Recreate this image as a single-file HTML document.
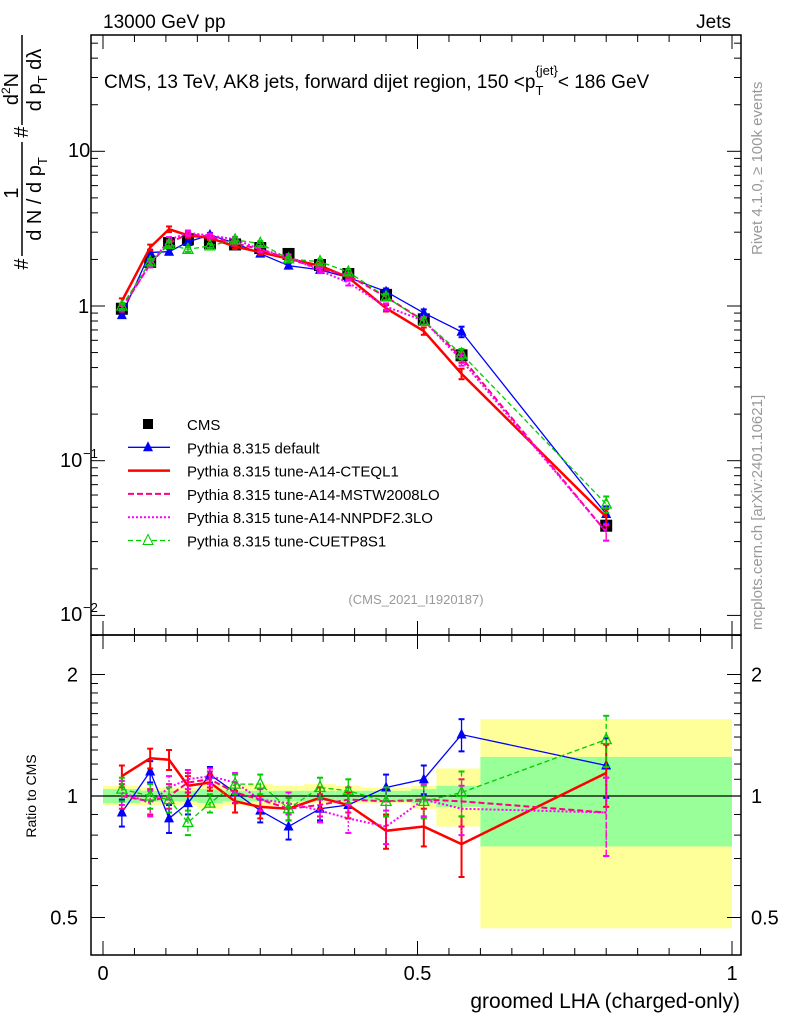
<!DOCTYPE html>
<html><head><meta charset="utf-8"><style>
body{margin:0;background:#fff}
svg{display:block;font-family:"Liberation Sans",sans-serif}
</style></head><body>
<svg id="c" width="786" height="1024" viewBox="0 0 786 1024">
<g id="bands"></g>
<g id="axes"></g>
<g id="series"></g>
<g id="legend"></g>
<text x="103" y="28" font-size="19">13000 GeV pp</text>
<text x="731" y="28" font-size="19" text-anchor="end">Jets</text>
<text x="104" y="88" font-size="19">CMS, 13 TeV, AK8 jets, forward dijet region, 150 &lt;p<tspan font-size="13" dy="7">T</tspan><tspan font-size="13" dy="-20" dx="-8">{jet}</tspan><tspan dy="13">&lt; 186 GeV</tspan></text>
<text x="416" y="604" font-size="13" fill="#999" text-anchor="middle">(CMS_2021_I1920187)</text>
<text transform="translate(762,255) rotate(-90)" font-size="15" fill="#999">Rivet 4.1.0, ≥ 100k events</text>
<text transform="translate(762,630) rotate(-90)" font-size="15" fill="#999">mcplots.cern.ch [arXiv:2401.10621]</text>
<g font-size="20">
<text transform="translate(28,264) rotate(-90)" text-anchor="middle">#</text>
<text transform="translate(18,193) rotate(-90)" text-anchor="middle">1</text>
<line x1="22" y1="142" x2="22" y2="256" stroke="#000" stroke-width="1.5"/>
<text transform="translate(41,199) rotate(-90)" text-anchor="middle">d N / d p<tspan font-size="13" dy="6">T</tspan></text>
<text transform="translate(28,132) rotate(-90)" text-anchor="middle">#</text>
<text transform="translate(18,89) rotate(-90)" text-anchor="middle">d<tspan font-size="12" dy="-8">2</tspan><tspan dy="8">N</tspan></text>
<line x1="22" y1="35" x2="22" y2="125" stroke="#000" stroke-width="1.5"/>
<text transform="translate(41,80) rotate(-90)" text-anchor="middle">d p<tspan font-size="13" dy="6">T</tspan><tspan dy="-6"> dλ</tspan></text>
</g>
<text transform="translate(36,796) rotate(-90)" font-size="14" text-anchor="middle">Ratio to CMS</text>
<text x="740" y="1008" font-size="21" text-anchor="end">groomed LHA (charged-only)</text>
</svg>
<script>
const xs=[0.03,0.075,0.105,0.135,0.17,0.21,0.25,0.295,0.345,0.39,0.45,0.51,0.57,0.80];
const edges=[0,0.06,0.09,0.12,0.15,0.19,0.23,0.27,0.32,0.37,0.41,0.49,0.53,0.6,1.0];
const cms=[0.96,1.93,2.55,2.7,2.55,2.5,2.37,2.17,1.84,1.61,1.18,0.82,0.48,0.038];
const bandGreen=[0.04,0.03,0.03,0.03,0.04,0.03,0.03,0.03,0.03,0.03,0.03,0.04,0.06,0.25];
const bandYellowLo=[0.95,0.95,0.95,0.95,0.93,0.95,0.94,0.95,0.96,0.96,0.96,0.93,0.84,0.47];
const bandYellowHi=[1.06,1.05,1.05,1.05,1.07,1.06,1.07,1.06,1.07,1.06,1.05,1.06,1.17,1.55];
const rDefault=[0.91,1.15,0.88,0.96,1.13,1.02,0.92,0.84,0.93,0.95,1.05,1.10,1.42,1.19];
const rCteq=[1.12,1.24,1.23,1.06,1.08,0.97,0.94,0.93,0.99,0.95,0.82,0.84,0.76,1.14];
const rMstw=[1.0,0.97,1.0,1.08,1.1,1.02,0.98,0.93,0.95,0.98,0.97,0.98,0.97,0.91];
const rNnpdf=[1.02,0.96,1.05,1.1,1.12,1.08,0.98,0.96,0.92,0.88,0.84,0.98,0.93,0.91];
const rCuet=[1.04,1.0,0.98,0.86,0.96,1.07,1.07,0.93,1.05,1.03,0.97,0.97,1.02,1.38];
const errs=[0.07,0.07,0.07,0.06,0.05,0.06,0.06,0.06,0.06,0.07,0.08,0.09,0.13,0.2];
const NS='http://www.w3.org/2000/svg';
const X=v=>103+629*v;
const YM=v=>306-154.7*Math.log10(v);
const YR=v=>796-121.5*Math.log2(v);
function el(t,a,p){const e=document.createElementNS(NS,t);for(const k in a)e.setAttribute(k,a[k]);document.getElementById(p).appendChild(e);return e;}
for(let i=0;i<xs.length;i++){
 const x0=X(edges[i]),x1=X(edges[i+1]);
 let e=el('rect',{x:x0,y:YR(bandYellowHi[i]),width:x1-x0,height:YR(bandYellowLo[i])-YR(bandYellowHi[i]),fill:'#ffff99'},'bands');
 
 e=el('rect',{x:x0,y:YR(1+bandGreen[i]),width:x1-x0,height:YR(1-bandGreen[i])-YR(1+bandGreen[i]),fill:'#99ff99'},'bands');
 
}
const ax='axes';
function line(x1,y1,x2,y2,w,c){const e=el('line',{x1,y1,x2,y2,stroke:c||'#000','stroke-width':w||1},ax);return e;}
let f=el('rect',{x:91,y:35,width:650,height:600,fill:'none',stroke:'#000','stroke-width':1.5},ax);

f=el('rect',{x:91,y:635,width:650,height:320,fill:'none',stroke:'#000','stroke-width':1.5},ax);

line(91,796,741,796,1.3);
for(let k=0;k<=20;k++){const v=k*0.05,x=X(v),L=(k%10==0)?14:7;
 line(x,635,x,635-L);line(x,35,x,35+L);line(x,955,x,955-L);line(x,635,x,635+L);}
for(let d=-2;d<=1;d++)for(let m=1;m<10;m++){const y=YM(m*Math.pow(10,d));if(y<35||y>635)continue;const L=m==1?14:7;line(91,y,91+L,y);line(741,y,741-L,y);}
[0.5,0.6,0.7,0.8,0.9,1,1.1,1.2,1.3,1.4,1.5,1.6,1.7,1.8,1.9,2,2.5].forEach(v=>{const y=YR(v);if(y<635||y>955)return;const L=(v==0.5||v==1||v==2)?14:7;line(91,y,91+L,y);line(741,y,741-L,y);});
[['10',150,''],['1',306,''],['10',460,'−1'],['10',614,'−2']].forEach(t=>{const e=el('text',{x:t[2]?60:(t[0]=='1'?78:68),y:t[1]+7,'font-size':20},ax);e.textContent=t[0];
 if(t[2]){const s=el('text',{x:83,y:t[1]-2,'font-size':13},ax);s.textContent=t[2];}});
[['2',2],['1',1],['0.5',0.5]].forEach(t=>{let e=el('text',{x:78,y:YR(t[1])+7,'font-size':20,'text-anchor':'end'},ax);e.textContent=t[0];
 e=el('text',{x:751,y:YR(t[1])+7,'font-size':20},ax);e.textContent=t[0];});
[['0',0],['0.5',0.5],['1',1]].forEach(t=>{const e=el('text',{x:X(t[1]),y:980,'font-size':20,'text-anchor':'middle'},ax);e.textContent=t[0];});
const S=[
 {n:'pythia-default',r:rDefault,c:'#0000ff',w:1.3,d:'',m:'tri'},
 {n:'pythia-cteql1',r:rCteq,c:'#ff0000',w:2.5,d:'',m:'none'},
 {n:'pythia-mstw2008lo',r:rMstw,c:'#ff0080',w:2,d:'6,3',m:'none'},
 {n:'pythia-nnpdf23lo',r:rNnpdf,c:'#ff00ff',w:2,d:'2,2',m:'none'},
 {n:'pythia-cuetp8s1',r:rCuet,c:'#00cc00',w:1.3,d:'5,3',m:'otri'}];
function marker(s,x,y){
 if(s.m=='tri'){const e=el('path',{d:`M${x-5},${y+4}L${x+5},${y+4}L${x},${y-6}Z`,fill:s.c},'series');}
 if(s.m=='otri'){const e=el('path',{d:`M${x-5},${y+4}L${x+5},${y+4}L${x},${y-6}Z`,fill:'none',stroke:s.c,'stroke-width':1.3},'series');}
}
for(let i=0;i<xs.length;i++){const x=X(xs[i]),y=YM(cms[i]);
 const e=el('rect',{x:x-6,y:y-6,width:12,height:12,fill:'#000'},'series');
 }
S.forEach(s=>{
 let pm='',pr='';
 for(let i=0;i<xs.length;i++){const x=X(xs[i]),v=cms[i]*s.r[i];
  pm+=(i?'L':'M')+x+','+YM(v);pr+=(i?'L':'M')+x+','+YR(s.r[i]);
  [[YM(v*(1+errs[i]*0.6)),YM(v*(1-errs[i]*0.6))],[YR(s.r[i]+errs[i]),YR(s.r[i]-errs[i])]].forEach(b=>{
   const e=el('line',{x1:x,x2:x,y1:b[0],y2:b[1],stroke:s.c,'stroke-width':s.w>2?2:1.3,'stroke-dasharray':s.d},'series');
   
   const c1=el('line',{x1:x-3,x2:x+3,y1:b[0],y2:b[0],stroke:s.c,'stroke-width':2},'series');
   const c2=el('line',{x1:x-3,x2:x+3,y1:b[1],y2:b[1],stroke:s.c,'stroke-width':2},'series');
  });
  marker(s,x,YM(v));marker(s,x,YR(s.r[i]));
 }
 let e=el('path',{d:pm,fill:'none',stroke:s.c,'stroke-width':s.w,'stroke-dasharray':s.d},'series');
 
 e=el('path',{d:pr,fill:'none',stroke:s.c,'stroke-width':s.w,'stroke-dasharray':s.d},'series');
 
});
const labels=['CMS','Pythia 8.315 default','Pythia 8.315 tune-A14-CTEQL1','Pythia 8.315 tune-A14-MSTW2008LO','Pythia 8.315 tune-A14-NNPDF2.3LO','Pythia 8.315 tune-CUETP8S1'];
labels.forEach((t,i)=>{const y=424+i*23.3;
 const tx=el('text',{x:187,y:y+6,'font-size':15},'legend');tx.textContent=t;
 
 if(i==0){el('rect',{x:143,y:y-5,width:10,height:10,fill:'#000'},'legend');}
 else{const s=S[i-1];el('line',{x1:128,x2:170,y1:y,y2:y,stroke:s.c,'stroke-width':s.w,'stroke-dasharray':s.d},'legend');
  if(s.m=='tri')el('path',{d:`M143,${y+4}L153,${y+4}L148,${y-6}Z`,fill:s.c},'legend');
  if(s.m=='otri')el('path',{d:`M143,${y+4}L153,${y+4}L148,${y-6}Z`,fill:'#fff',stroke:s.c},'legend');}
});
</script>
</body></html>
